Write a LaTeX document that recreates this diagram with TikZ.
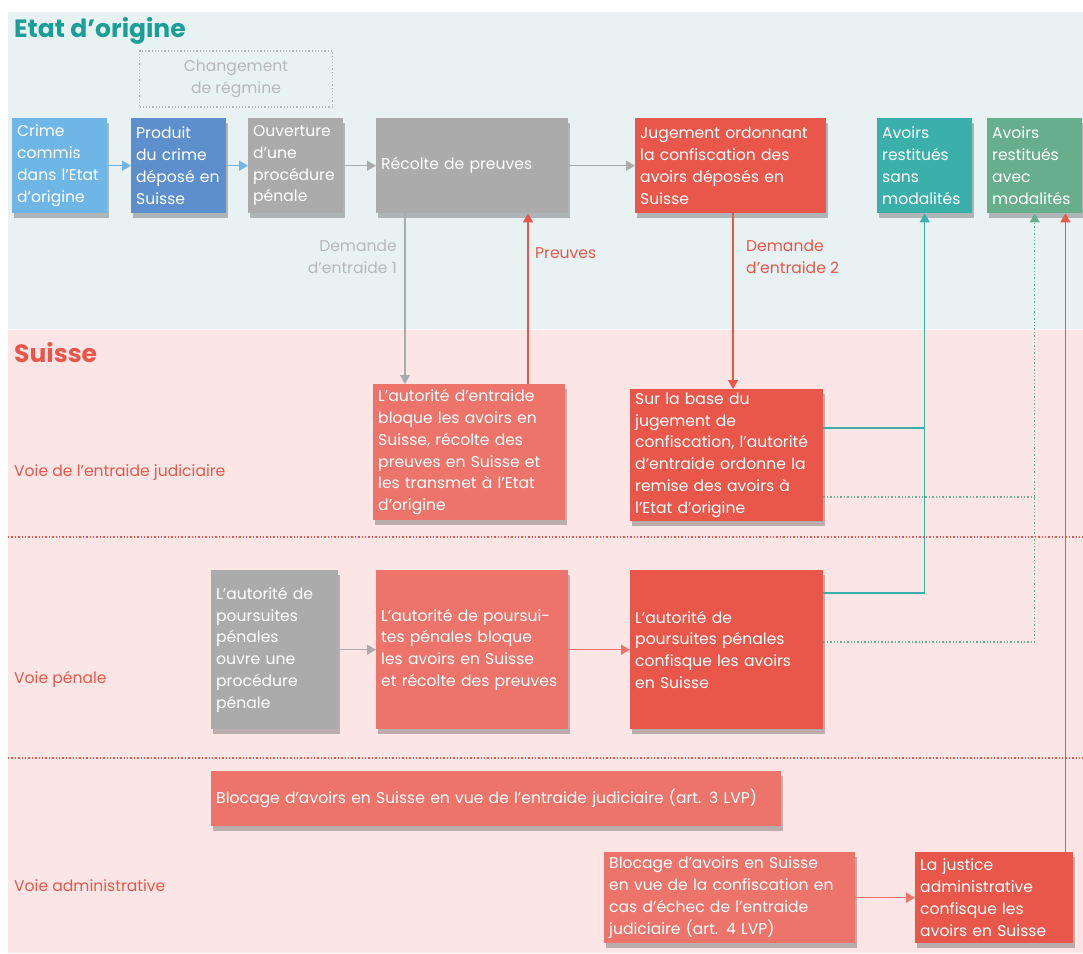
\documentclass[tikz,border=0pt]{standalone}
\usepackage{fontspec}
\setmainfont{Poppins}
\usetikzlibrary{arrows.meta,positioning,calc,shadows}

\definecolor{fondhaut}{HTML}{E9F2F3}
\definecolor{fondbas}{HTML}{FCE6E5}
\definecolor{sarcelle}{HTML}{1A9E95}
\definecolor{rouge}{HTML}{E8574A}
\definecolor{rougeclair}{HTML}{EC746B}
\definecolor{bleuclair}{HTML}{6DB6E6}
\definecolor{bleu}{HTML}{5C8FCC}
\definecolor{gris}{HTML}{ABABAB}
\definecolor{grisclair}{HTML}{B8B8B8}
\definecolor{turquoise}{HTML}{3BB0AB}
\definecolor{vert}{HTML}{67AE8D}

\newcommand{\corps}{\fontsize{15.6}{21.8}\selectfont}

\begin{document}
\begin{tikzpicture}[
    x=1pt, y=-1pt,
    boite/.style={rectangle, text=white, align=left, anchor=north west,
                  inner xsep=5pt, inner ysep=3pt, font=\corps,
                  drop shadow={shadow xshift=2pt, shadow yshift=-5pt,
                               opacity=.25, fill=black}},
    titre/.style={anchor=west, inner sep=0pt, font=\fontsize{25}{29}\selectfont\bfseries},
    voie/.style={anchor=west, inner sep=0pt, text=rouge, font=\corps},
    etiq/.style={inner sep=0pt, font=\corps},
    fleche/.style={-{Triangle[length=9pt,width=10pt]}, line width=1.5pt},
    lien/.style={line width=1.5pt},
    pointille/.style={dotted, line width=1.4pt}
  ]
  \useasboundingbox (0,0) rectangle (1083,953);
  \fill[white] (0,0) rectangle (1083,953);
  % fonds
  \fill[fondhaut] (8,12) rectangle (1083,329);
  \fill[fondbas]  (8,330) rectangle (1083,953);
  \draw[rouge, pointille] (8,537) -- (1083,537);
  \draw[rouge, pointille] (8,758) -- (1083,758);

  %% --- Etat d'origine ---
  \node[titre, text=sarcelle] (tetat) at (14,31) {Etat d’origine};
  \node[draw=grisclair, dotted, line width=1.2pt, text=grisclair, font=\corps,
        align=center, minimum width=193pt, minimum height=56pt] (regime) at (236,79)
        {Changement\\de régmine};
  \node[boite, fill=bleuclair, text width=85pt, minimum height=95pt] (crime) at (12,118)
        {Crime\\commis\\dans l’Etat\\d’origine};
  \node[boite, fill=bleu, text width=85pt, minimum height=95pt] (produit) at (131,118)
        {Produit\\du crime\\déposé en\\Suisse};
  \node[boite, fill=gris, text width=85pt, minimum height=95pt] (ouverture) at (248,118)
        {Ouverture\\d’une\\procédure\\pénale};
  \node[boite, fill=gris, text width=182pt, minimum height=95pt] (recolte) at (376,118)
        {Récolte de preuves};
  \node[boite, fill=rouge, text width=181pt, minimum height=95pt] (jugement) at (635,118)
        {Jugement ordonnant\\la confiscation des\\avoirs déposés en\\Suisse};
  \node[boite, fill=turquoise, text width=85pt, minimum height=95pt] (sans) at (877,118)
        {Avoirs\\restitués\\sans\\modalités};
  \node[boite, fill=vert, text width=85pt, minimum height=95pt] (avec) at (987,118)
        {Avoirs\\restitués\\avec\\modalités};

  %% --- Suisse ---
  \node[titre, text=rouge] (tsuisse) at (14,353) {Suisse};
  \node[voie] (ventraide) at (14,473) {Voie de l’entraide judiciaire};
  \node[voie] (vpenale) at (14,679) {Voie pénale};
  \node[voie] (vadmin) at (14,886) {Voie administrative};
  % entraide judiciaire
  \node[boite, fill=rougeclair, text width=182pt, minimum height=136pt] (entraide) at (373,384)
        {L’autorité d’entraide\\bloque les avoirs en\\Suisse, récolte des\\preuves en Suisse et\\les transmet à l’Etat\\d’origine};
  \node[boite, fill=rouge, text width=183pt, minimum height=132pt] (remise) at (630,389)
        {Sur la base du\\jugement de\\confiscation, l’autorité\\d’entraide ordonne la\\remise des avoirs à\\l’Etat d’origine};
  % voie penale
  \node[boite, fill=gris, text width=117pt, minimum height=159pt] (ouvre) at (211,570)
        {L’autorité de\\poursuites\\pénales\\ouvre une\\procédure\\pénale};
  \node[boite, fill=rougeclair, text width=182pt, minimum height=159pt] (bloque) at (376,570)
        {L’autorité de poursui-\\tes pénales bloque\\les avoirs en Suisse\\et récolte des preuves};
  \node[boite, fill=rouge, text width=183pt, minimum height=159pt] (confisque) at (630,570)
        {L’autorité de\\poursuites pénales\\confisque les avoirs\\en Suisse};
  % voie administrative
  \node[boite, fill=rougeclair, text width=560pt, minimum height=55pt] (lvptrois) at (211,771)
        {Blocage d’avoirs en Suisse en vue de l’entraide judiciaire (art. 3 LVP)};
  \node[boite, fill=rougeclair, text width=241pt, minimum height=91pt] (lvpquatre) at (604,852)
        {Blocage d’avoirs en Suisse\\en vue de la confiscation en\\cas d’échec de l’entraide\\judiciaire (art. 4 LVP)};
  \node[boite, fill=rouge, text width=148pt, minimum height=91pt] (justice) at (915,852)
        {La justice\\administrative\\confisque les\\avoirs en Suisse};

  % chaine du haut
  \draw[fleche, bleuclair] (crime) -- (produit);
  \draw[fleche, bleuclair] (produit) -- (ouverture);
  \draw[fleche, gris] (ouverture) -- (recolte);
  \draw[fleche, gris] (recolte) -- (jugement);
  % demandes d'entraide et preuves
  \coordinate (dun) at ($(recolte.south west)+(29,0)$);
  \draw[fleche, gris] (dun) -- (dun |- entraide.north);
  \node[etiq, text=grisclair, align=right, anchor=east] (ldun) at (397,257)
        {Demande\\d’entraide 1};
  \coordinate (pr) at ($(entraide.north west)+(155,0)$);
  \draw[fleche, rouge] (pr) -- (pr |- recolte.south);
  \node[etiq, text=rouge, anchor=west] (lpr) at (535,253) {Preuves};
  \coordinate (ddeux) at ($(jugement.south west)+(98,0)$);
  \draw[fleche, rouge] (ddeux) -- (ddeux |- remise.north);
  \node[etiq, text=rouge, align=left, anchor=west] (lddeux) at (746,257)
        {Demande\\d’entraide 2};
  % restitution sans modalites
  \coordinate (tremise) at ($(remise.north east)+(0,39)$);
  \coordinate (tconf) at ($(confisque.north east)+(0,23)$);
  \draw[lien, turquoise] (tremise) -- (tremise -| sans.south);
  \draw[fleche, turquoise] (tconf) -| (sans.south);
  % restitution avec modalites
  \coordinate (vremise) at ($(remise.north east)+(0,108)$);
  \coordinate (vconf) at ($(confisque.north east)+(0,72)$);
  \draw[pointille, vert] (vremise) -- (vremise -| avec.south);
  \draw[pointille, vert, -{Triangle[length=9pt,width=10pt]}] (vconf) -| (avec.south);
  % voie penale et administrative
  \draw[fleche, gris] (ouvre) -- (bloque);
  \draw[fleche, rougeclair] (bloque) -- (confisque);
  \draw[fleche, rougeclair] (lvpquatre) -- (justice);
  \coordinate (radmin) at ($(avec.south east)+(-17,0)$);
  \draw[fleche, rouge] (radmin |- justice.north) -- (radmin);
\end{tikzpicture}
\end{document}
